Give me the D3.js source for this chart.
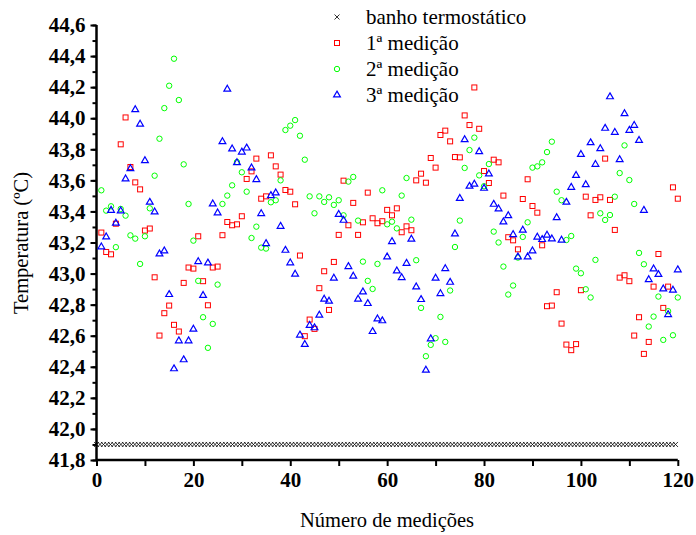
<!DOCTYPE html>
<html>
<head>
<meta charset="utf-8">
<script src="https://cdn.jsdelivr.net/npm/d3@7"></script>
<style>
  html, body { margin: 0; padding: 0; background: #fff; }
  svg { display: block; }
  text { font-family: "Liberation Serif", "Times New Roman", serif; fill: #000; }
</style>
</head>
<body>
<svg id="chart" width="696" height="535"></svg>
<script>
// Temperatura do banho termostático (constante) e três séries de medições
const banhoTemp = 41.9;
const banhoLeituras = d3.range(0, 120.01, 0.72);

const medicao1 = [
  43.264, 43.139, 43.124, 43.321, 43.832, 44.005, 43.686, 43.587, 43.542, 43.277,
  43.290, 42.976, 42.601, 42.745, 42.794, 42.670, 42.627, 42.940, 43.039, 43.032,
  43.240, 42.951, 42.796, 43.039, 43.045, 43.247, 43.332, 43.311, 43.317, 43.369,
  43.609, 43.658, 43.740, 43.482, 43.497, 43.761, 43.690, 43.637, 43.538, 43.527,
  43.446, 43.116, 42.597, 42.704, 42.644, 42.906, 43.015, 42.766, 43.075, 43.249,
  43.598, 43.311, 43.455, 43.249, 43.330, 43.521, 43.356, 43.324, 43.337, 43.410,
  43.375, 43.420, 43.266, 43.304, 43.279, 43.600, 43.643, 43.585, 43.744, 43.682,
  43.892, 43.920, 43.851, 43.750, 43.748, 44.018, 43.956, 44.198, 43.932, 43.660,
  43.583, 43.733, 43.716, 43.502, 43.234, 43.214, 43.156, 43.480, 43.607, 43.435,
  43.392, 43.182, 42.790, 42.794, 42.880, 42.678, 42.543, 42.507, 42.546, 42.893,
  43.495, 43.375, 43.474, 43.491, 43.740, 43.474, 43.281, 42.974, 42.989, 42.951,
  42.601, 42.719, 42.483, 42.560, 42.916, 43.126, 42.779, 42.916, 43.555, 43.482
];

const medicao2 = [
  43.536, 43.405, 43.433, 43.170, 43.416, 43.373, 43.246, 43.225, 43.062, 43.240,
  43.420, 43.630, 43.868, 44.065, 44.209, 44.383, 44.117, 43.703, 43.448, 43.212,
  42.953, 42.719, 42.522, 42.676, 42.929, 43.448, 43.502, 43.568, 43.718, 43.652,
  43.527, 43.229, 43.302, 43.167, 43.161, 43.459, 43.472, 43.600, 43.924, 43.952,
  43.988, 43.887, 43.733, 43.497, 43.388, 43.497, 43.461, 43.491, 43.442, 43.472,
  43.375, 43.592, 43.622, 43.341, 43.077, 42.953, 42.901, 43.062, 43.536, 43.317,
  43.334, 43.291, 43.502, 43.615, 43.347, 43.086, 42.779, 42.468, 42.541, 42.584,
  42.721, 42.560, 42.891, 43.171, 43.341, 43.680, 43.795, 43.875, 43.632, 43.562,
  43.705, 43.270, 43.200, 43.045, 42.865, 42.923, 43.103, 43.236, 43.330, 43.682,
  43.690, 43.716, 43.782, 43.849, 43.527, 43.472, 43.216, 43.242, 43.032, 43.002,
  42.899, 42.846, 43.088, 43.388, 43.345, 43.377, 43.495, 43.647, 43.825, 43.602,
  43.448, 43.133, 43.060, 42.659, 42.723, 42.852, 42.573, 42.758, 42.603, 42.846
];

const medicao3 = [
  43.172, 43.236, 43.407, 43.324, 43.403, 43.609, 43.675, 44.055, 43.962, 43.727,
  43.459, 43.397, 43.126, 43.146, 42.865, 42.387, 42.567, 42.445, 42.567, 42.642,
  43.077, 42.859, 43.068, 43.448, 43.390, 43.849, 44.187, 43.802, 43.714, 43.782,
  43.808, 43.680, 43.605, 43.386, 43.193, 43.502, 43.519, 43.304, 43.150, 43.069,
  42.996, 42.604, 42.544, 42.666, 42.651, 42.732, 42.835, 42.822, 42.970, 43.381,
  43.343, 43.045, 42.983, 42.835, 42.882, 42.807, 42.627, 42.708, 42.696, 43.107,
  43.206, 43.017, 42.974, 43.066, 43.221, 42.914, 42.833, 42.378, 42.580, 42.970,
  42.871, 43.032, 42.944, 43.255, 43.484, 43.862, 43.562, 43.575, 43.785, 43.549,
  43.641, 43.446, 43.416, 43.332, 43.373, 43.251, 43.107, 43.279, 43.107, 43.146,
  43.234, 43.219, 43.247, 43.223, 43.360, 43.215, 43.459, 43.555, 43.632, 43.767,
  43.572, 43.842, 43.703, 43.804, 43.935, 44.138, 43.909, 43.733, 44.029, 43.922,
  43.954, 43.857, 43.407, 42.961, 43.030, 42.994, 42.901, 42.736, 42.893, 43.024
];

const yTicks = [41.8, 42.0, 42.2, 42.4, 42.6, 42.8, 43.0, 43.2, 43.4, 43.6, 43.8, 44.0, 44.2, 44.4, 44.6];
const xTicks = [0, 20, 40, 60, 80, 100, 120];
const legendLabels = ["banho termostático", "1ª medição", "2ª medição", "3ª medição"];

const svg = d3.select("#chart");
const x = d3.scaleLinear().domain([0, 120]).range([96.5, 677.8]);
const y = d3.scaleLinear().domain([41.8, 44.6]).range([460, 25]);
const fmt = v => d3.format(".1f")(v).replace(".", ",");
const tickFont = g => g.selectAll(".tick text")
  .style("font-family", "'Liberation Serif', serif").style("font-size", "21px")
  .style("font-weight", "bold").attr("fill", "#000");

// eixo Y: marcas menores a cada 0,1 e rótulos a cada 0,2
const yAxis = svg.append("g").attr("transform", `translate(${x(0)},0)`);
yAxis.call(d3.axisLeft(y).tickValues(d3.range(41.8, 44.65, 0.1)).tickSize(4).tickFormat(""));
yAxis.selectAll(".tick line").attr("stroke-width", 2);
const yMajor = svg.append("g").attr("transform", `translate(${x(0)},0)`)
  .call(d3.axisLeft(y).tickValues(yTicks).tickSize(6).tickPadding(5).tickFormat(fmt));
yMajor.select(".domain").remove();
yMajor.selectAll(".tick line").attr("stroke-width", 2);
yMajor.call(tickFont);
yAxis.select(".domain").attr("stroke-width", 2.5).attr("d", `M0,${y(41.8)}V${y(44.6)}`);

// eixo X
const xAxis = svg.append("g").attr("transform", `translate(0,${y(41.8)})`)
  .call(d3.axisBottom(x).tickValues(d3.range(0, 121, 10)).tickSize(6).tickFormat(""));
xAxis.select(".domain").attr("stroke-width", 2.5).attr("d", `M${x(0)},0H${x(120)}`);
xAxis.selectAll(".tick line").attr("stroke-width", 2);
const xLab = svg.append("g").attr("transform", `translate(0,${y(41.8)})`)
  .call(d3.axisBottom(x).tickValues(xTicks).tickSize(0).tickPadding(12).tickFormat(d3.format("d")));
xLab.select(".domain").remove();
xLab.call(tickFont);

// títulos dos eixos
svg.append("text").attr("x", 387).attr("y", 527).attr("text-anchor", "middle")
  .style("font-size", "20.5px").text("Número de medições");
svg.append("text").attr("transform", `translate(28,243) rotate(-90)`).attr("text-anchor", "middle")
  .style("font-size", "20.5px").text("Temperatura (ºC)");

// marcadores
const crossPath = s => `M${-s},${-s}L${s},${s}M${-s},${s}L${s},${-s}`;
const tri = d3.symbol().type(d3.symbolTriangle).size(20)();

svg.append("g").selectAll("path").data(banhoLeituras).join("path")
  .attr("transform", d => `translate(${x(d)},${y(banhoTemp)})`)
  .attr("d", crossPath(2.5)).attr("stroke", "#000").attr("stroke-width", 0.8).attr("fill", "none");

svg.append("g").selectAll("rect").data(medicao1).join("rect")
  .attr("x", (d, i) => x(i + 1) - 2.5).attr("y", d => y(d) - 2.5)
  .attr("width", 5).attr("height", 5)
  .attr("fill", "none").attr("stroke", "#ff0000").attr("stroke-width", 1);

svg.append("g").selectAll("circle").data(medicao2).join("circle")
  .attr("cx", (d, i) => x(i + 1)).attr("cy", d => y(d)).attr("r", 2.7)
  .attr("fill", "none").attr("stroke", "#00ff00").attr("stroke-width", 1);

svg.append("g").selectAll("path").data(medicao3).join("path")
  .attr("transform", (d, i) => `translate(${x(i + 1)},${y(d)})`).attr("d", tri)
  .attr("fill", "none").attr("stroke", "#0000ff").attr("stroke-width", 1.2);

// legenda
const legY = [17, 43, 69, 95];
const leg = svg.append("g");
legendLabels.forEach((lab, k) => {
  const cy = legY[k];
  if (k === 0) {
    leg.append("path").attr("transform", `translate(337,${cy})`).attr("d", crossPath(2.5))
      .attr("stroke", "#000").attr("stroke-width", 0.8).attr("fill", "none");
  } else if (k === 1) {
    leg.append("rect").attr("x", 334.5).attr("y", cy - 2.5).attr("width", 5).attr("height", 5)
      .attr("fill", "none").attr("stroke", "#ff0000");
  } else if (k === 2) {
    leg.append("circle").attr("cx", 337).attr("cy", cy).attr("r", 2.7)
      .attr("fill", "none").attr("stroke", "#00ff00");
  } else {
    leg.append("path").attr("transform", `translate(337,${cy})`).attr("d", tri)
      .attr("fill", "none").attr("stroke", "#0000ff").attr("stroke-width", 1.2);
  }
  leg.append("text").attr("x", 366).attr("y", cy + 6.5).style("font-size", "21px").text(lab);
});
</script>
</body>
</html>
